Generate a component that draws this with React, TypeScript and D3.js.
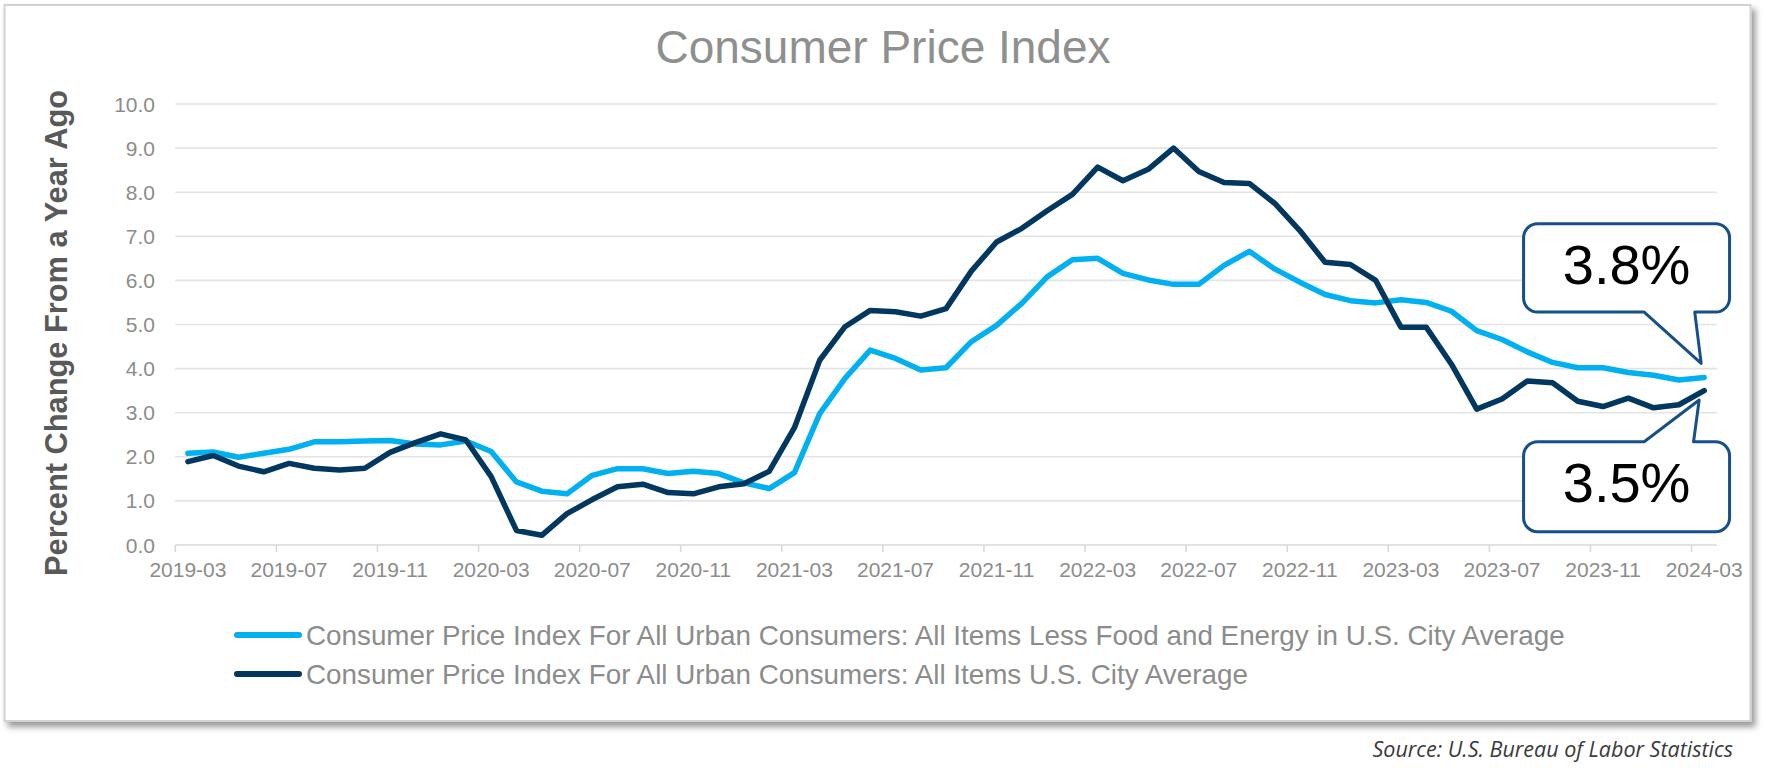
import React from "react";
import * as d3 from "d3";

const months: string[] = [
  "2019-03","2019-04","2019-05","2019-06","2019-07","2019-08","2019-09","2019-10","2019-11","2019-12",
  "2020-01","2020-02","2020-03","2020-04","2020-05","2020-06","2020-07","2020-08","2020-09","2020-10","2020-11","2020-12",
  "2021-01","2021-02","2021-03","2021-04","2021-05","2021-06","2021-07","2021-08","2021-09","2021-10","2021-11","2021-12",
  "2022-01","2022-02","2022-03","2022-04","2022-05","2022-06","2022-07","2022-08","2022-09","2022-10","2022-11","2022-12",
  "2023-01","2023-02","2023-03","2023-04","2023-05","2023-06","2023-07","2023-08","2023-09","2023-10","2023-11","2023-12",
  "2024-01","2024-02","2024-03",
];

const tickLabels: string[] = [
  "2019-03","2019-07","2019-11","2020-03","2020-07","2020-11","2021-03","2021-07",
  "2021-11","2022-03","2022-07","2022-11","2023-03","2023-07","2023-11","2024-03",
];

// CPI less food and energy (% change from a year ago)
const coreCPI: number[] = [
  2.08, 2.11, 1.99, 2.08, 2.17, 2.34, 2.34, 2.36, 2.37, 2.29,
  2.27, 2.36, 2.12, 1.43, 1.22, 1.16, 1.58, 1.73, 1.73, 1.62, 1.67, 1.62,
  1.41, 1.28, 1.64, 2.98, 3.78, 4.42, 4.23, 3.97, 4.02, 4.61, 4.98, 5.48,
  6.08, 6.47, 6.50, 6.16, 6.01, 5.91, 5.91, 6.34, 6.66, 6.26, 5.96, 5.68,
  5.54, 5.49, 5.56, 5.50, 5.30, 4.86, 4.66, 4.38, 4.14, 4.02, 4.02, 3.91,
  3.85, 3.74, 3.80,
];

// CPI all items (% change from a year ago)
const allItemsCPI: number[] = [
  1.89, 2.03, 1.79, 1.66, 1.85, 1.74, 1.70, 1.74, 2.10, 2.32,
  2.52, 2.38, 1.55, 0.33, 0.22, 0.71, 1.03, 1.32, 1.38, 1.19, 1.16, 1.32,
  1.39, 1.67, 2.66, 4.19, 4.95, 5.32, 5.29, 5.19, 5.36, 6.21, 6.87, 7.18,
  7.58, 7.95, 8.57, 8.26, 8.52, 9.00, 8.47, 8.22, 8.20, 7.75, 7.13, 6.41,
  6.36, 6.00, 4.94, 4.94, 4.10, 3.08, 3.31, 3.72, 3.68, 3.26, 3.14, 3.33,
  3.11, 3.18, 3.50,
];

const yTicks: number[] = [0, 1, 2, 3, 4, 5, 6, 7, 8, 9, 10];

const seriesNames: string[] = [
  "Consumer Price Index For All Urban Consumers: All Items Less Food and Energy in U.S. City Average",
  "Consumer Price Index For All Urban Consumers: All Items U.S. City Average",
];

const seriesColors: string[] = ["#00b0f0", "#02375f"];

const titleText = "Consumer Price Index";
const yAxisTitle = "Percent Change From a Year Ago";
const sourceText = "Source: U.S. Bureau of Labor Statistics";

const W = 1766;
const H = 768;
const PLOT = { left: 175.3, right: 1716.8, top: 104, bottom: 545 };
const FONT = "'Liberation Sans', Arial, Helvetica, sans-serif";
const CALLOUT_STROKE = "#15508a";

function roundedCallout(
  x0: number, y0: number, x1: number, y1: number, r: number,
  side: "top" | "bottom", a: number, b: number, tx: number, ty: number
): string {
  const p = d3.path();
  p.moveTo(x0 + r, y0);
  if (side === "top") {
    p.lineTo(a, y0);
    p.lineTo(tx, ty);
    p.lineTo(b, y0);
  }
  p.lineTo(x1 - r, y0);
  p.arcTo(x1, y0, x1, y0 + r, r);
  p.lineTo(x1, y1 - r);
  p.arcTo(x1, y1, x1 - r, y1, r);
  if (side === "bottom") {
    p.lineTo(b, y1);
    p.lineTo(tx, ty);
    p.lineTo(a, y1);
  }
  p.lineTo(x0 + r, y1);
  p.arcTo(x0, y1, x0, y1 - r, r);
  p.lineTo(x0, y0 + r);
  p.arcTo(x0, y0, x0 + r, y0, r);
  p.closePath();
  return p.toString();
}

export default function App() {
  const x = d3.scaleBand<string>().domain(months).range([PLOT.left, PLOT.right]).paddingInner(0).paddingOuter(0);
  const y = d3.scaleLinear().domain([0, 10]).range([PLOT.bottom, PLOT.top]);
  const cx = (m: string) => (x(m) as number) + x.bandwidth() / 2;

  const lineGen = d3
    .line<number>()
    .x((_, i) => cx(months[i]))
    .y((d) => y(d));

  const series = [coreCPI, allItemsCPI];

  const lastIdx = months.length - 1;
  const lastX = cx(months[lastIdx]);
  const coreLast = coreCPI[lastIdx];
  const allLast = allItemsCPI[lastIdx];

  // callout 1 (above, for core)
  const t1x = lastX - 3;
  const t1y = y(coreLast) - 14;
  const b1 = { x0: lastX - 180.6, x1: lastX + 25.4, y1: t1y - 51.3 };
  const b1y0 = b1.y1 - 88.4;
  // callout 2 (below, for all items)
  const t2x = lastX - 5;
  const t2y = y(allLast) + 9.4;
  const b2y0 = t2y + 41.7;
  const b2 = { x0: lastX - 180.6, x1: lastX + 25.4, y1: b2y0 + 90 };

  const fmt = d3.format(".1f");

  return (
    <svg
      width={W}
      height={H}
      viewBox={`0 0 ${W} ${H}`}
      style={{ position: "absolute", left: 0, top: 0, background: "#ffffff" }}
    >
      <defs>
        <filter id="shadow" x="-5%" y="-5%" width="110%" height="115%">
          <feDropShadow dx="4" dy="5" stdDeviation="3" floodColor="#000" floodOpacity="0.4" />
        </filter>
      </defs>
      <rect x={0} y={0} width={W} height={H} fill="#ffffff" />
      <rect
        x={4.5}
        y={5}
        width={1746}
        height={716}
        fill="#ffffff"
        stroke="#d2d2d2"
        strokeWidth={2}
        filter="url(#shadow)"
      />

      {/* Title */}
      <text
        x={883}
        y={63}
        textAnchor="middle"
        fontFamily={FONT}
        fontSize={46}
        fill="#8f8f8f"
      >
        {titleText}
      </text>

      {/* Gridlines */}
      {yTicks.map((t) => (
        <line
          key={`g${t}`}
          x1={PLOT.left}
          x2={PLOT.right}
          y1={y(t)}
          y2={y(t)}
          stroke={t === 0 ? "#d9d9d9" : "#e3e3e3"}
          strokeWidth={1.6}
        />
      ))}

      {/* Y tick labels */}
      {yTicks.map((t) => (
        <text
          key={`yl${t}`}
          x={155}
          y={y(t) + 7.5}
          textAnchor="end"
          fontFamily={FONT}
          fontSize={21}
          fill="#8c8c8c"
        >
          {fmt(t)}
        </text>
      ))}

      {/* X ticks and labels */}
      {tickLabels.map((m) => (
        <g key={`xt${m}`}>
          <line
            x1={x(m) as number}
            x2={x(m) as number}
            y1={PLOT.bottom}
            y2={PLOT.bottom + 7}
            stroke="#d9d9d9"
            strokeWidth={1.6}
          />
          <text
            x={cx(m)}
            y={576.5}
            textAnchor="middle"
            fontFamily={FONT}
            fontSize={21}
            fill="#8c8c8c"
          >
            {m}
          </text>
        </g>
      ))}

      {/* Y axis title */}
      <text
        transform={`translate(67,333) rotate(-90)`}
        textAnchor="middle"
        fontFamily={FONT}
        fontSize={30.8}
        fontWeight="bold"
        fill="#595959"
      >
        {yAxisTitle}
      </text>

      {/* Lines */}
      {series.map((s, k) => (
        <path
          key={`s${k}`}
          d={lineGen(s) as string}
          fill="none"
          stroke={seriesColors[k]}
          strokeWidth={5.5}
          strokeLinejoin="round"
          strokeLinecap="round"
        />
      ))}

      {/* Callouts */}
      <path
        d={roundedCallout(b1.x0, b1y0, b1.x1, b1.y1, 14, "bottom", lastX - 60, lastX - 9.4, t1x, t1y)}
        fill="#ffffff"
        stroke={CALLOUT_STROKE}
        strokeWidth={3}
        strokeLinejoin="round"
      />
      <text
        x={(b1.x0 + b1.x1) / 2}
        y={b1y0 + 60}
        textAnchor="middle"
        fontFamily={FONT}
        fontSize={56}
        fill="#000000"
      >
        {fmt(coreLast) + "%"}
      </text>

      <path
        d={roundedCallout(b2.x0, b2y0, b2.x1, b2.y1, 14, "top", lastX - 60, lastX - 10.6, t2x, t2y)}
        fill="#ffffff"
        stroke={CALLOUT_STROKE}
        strokeWidth={3}
        strokeLinejoin="round"
      />
      <text
        x={(b2.x0 + b2.x1) / 2}
        y={b2y0 + 60}
        textAnchor="middle"
        fontFamily={FONT}
        fontSize={56}
        fill="#000000"
      >
        {fmt(allLast) + "%"}
      </text>

      {/* Legend */}
      {seriesNames.map((name, k) => {
        const ly = 635 + k * 39;
        return (
          <g key={`lg${k}`}>
            <line
              x1={237}
              x2={299}
              y1={ly}
              y2={ly}
              stroke={seriesColors[k]}
              strokeWidth={6}
              strokeLinecap="round"
            />
            <text
              x={306}
              y={ly + 10}
              fontFamily={FONT}
              fontSize={27.8}
              fill="#8c8c8c"
            >
              {name}
            </text>
          </g>
        );
      })}

      {/* Source */}
      <text
        x={1733}
        y={757}
        textAnchor="end"
        fontFamily="'Open Sans', 'Noto Sans', sans-serif"
        fontStyle="italic"
        fontSize={21.5}
        fill="#3a3a3a"
      >
        {sourceText}
      </text>
    </svg>
  );
}
